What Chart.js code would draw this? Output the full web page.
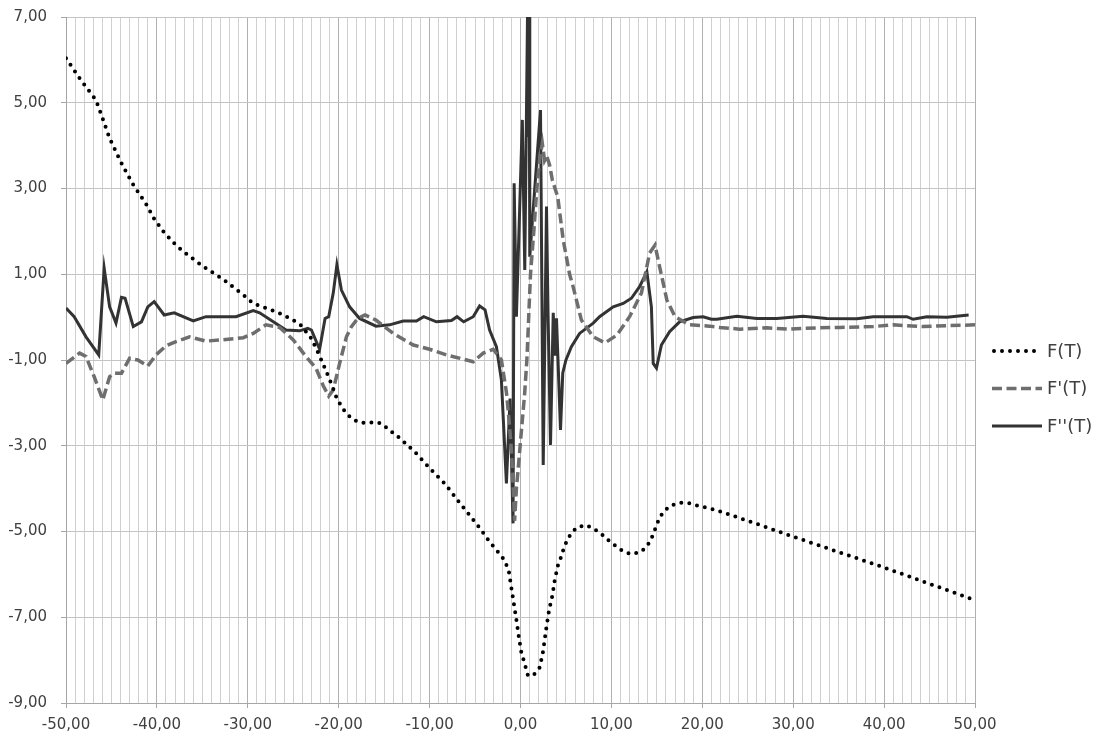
<!DOCTYPE html>
<html>
<head>
<meta charset="utf-8">
<script src="https://cdn.jsdelivr.net/npm/chart.js@4"></script>
<style>
html,body{margin:0;padding:0;background:#fff;}
#wrap{width:1100px;height:732px;position:relative;}
</style>
</head>
<body>
<div id="wrap"><canvas id="c" width="1100" height="732"></canvas></div>
<script>
// ---- Data ----
const seriesNames = ["F(T)", "F'(T)", "F''(T)"];

const xTicksMin = -50, xTicksMax = 50, xMinorStep = 1, xLabelStep = 10;
const yTicksMin = -9, yTicksMax = 7, yStep = 2;

// F(T)
const fX = [-50,-48.4,-46.7,-46.1,-45.2,-44.0,-42.7,-41.2,-40.3,-39.2,-37.9,-37.1,-34.9,-32.7,-30.5,-29.4,-27.2,-26.5,-25.0,-24.1,-23.0,-22.2,-21.5,-20.8,-20.2,-19.5,-18.8,-17.9,-17.0,-16.0,-15.3,-14.6,-13.3,-11.6,-10.0,-8.3,-6.7,-5.6,-4.3,-3.75,-3.2,-2.58,-1.99,-1.55,-1.26,-1.0,-0.74,-0.45,-0.19,0.1,0.36,0.83,1.57,2.12,2.48,2.86,3.15,3.52,3.77,4.13,4.51,4.76,5.13,5.61,6.23,7.18,8.1,8.91,9.64,10.37,11.22,12.1,13.05,13.79,14.3,14.67,14.96,15.33,15.8,16.61,17.53,18.56,19.54,20.47,21.5,25,30,35,40,45,50];
const fY = [6.04,5.54,5.06,4.71,4.17,3.63,3.12,2.64,2.29,1.97,1.68,1.53,1.18,0.88,0.52,0.32,0.15,0.09,-0.07,-0.2,-0.5,-0.86,-1.2,-1.56,-1.9,-2.15,-2.32,-2.45,-2.47,-2.45,-2.48,-2.6,-2.82,-3.15,-3.52,-3.89,-4.33,-4.62,-4.97,-5.14,-5.29,-5.45,-5.6,-5.78,-5.96,-6.32,-6.67,-7.06,-7.45,-7.83,-8.01,-8.37,-8.32,-8.17,-7.8,-7.22,-6.83,-6.48,-6.13,-5.78,-5.57,-5.39,-5.2,-5.03,-4.9,-4.85,-4.94,-5.06,-5.2,-5.32,-5.45,-5.53,-5.49,-5.38,-5.21,-5.03,-4.85,-4.67,-4.52,-4.39,-4.33,-4.34,-4.4,-4.44,-4.5,-4.75,-5.12,-5.48,-5.84,-6.22,-6.6];

// F'(T)
const f1X = [-50,-48.5,-47.8,-46.9,-45.95,-45.2,-44.7,-43.9,-43.0,-42.1,-41.0,-40.1,-39.0,-37.9,-36.4,-34.6,-32.4,-30.5,-29.4,-28.0,-26.5,-25.0,-23.6,-22.5,-21.7,-21.1,-20.6,-19.9,-19.15,-18.6,-17.9,-17.1,-15.9,-14.0,-11.8,-10.0,-8.15,-5.2,-4.1,-3.0,-2.1,-1.55,-1.3,-1.0,-0.8,-0.65,-0.45,-0.2,0.1,0.45,0.7,0.9,1.1,1.5,1.8,2.1,2.4,2.65,2.9,3.2,3.5,4.1,4.7,5.4,5.8,6.7,8.0,9.3,10.6,12.0,13.3,14.2,14.8,15.3,16.1,17.0,18.6,20.8,21.9,24.1,27.1,29.6,32.6,35.1,38.8,41.0,44.3,47.0,50];
const f1Y = [-1.08,-0.84,-0.92,-1.39,-1.93,-1.39,-1.31,-1.31,-0.96,-1.0,-1.14,-0.88,-0.67,-0.57,-0.46,-0.56,-0.52,-0.48,-0.38,-0.18,-0.24,-0.53,-0.92,-1.19,-1.6,-1.84,-1.7,-1.08,-0.46,-0.22,-0.03,0.05,-0.07,-0.38,-0.65,-0.75,-0.88,-1.04,-0.84,-0.75,-1.0,-1.75,-2.3,-3.1,-4.0,-4.75,-4.0,-3.4,-2.65,-1.8,-1.0,0.0,1.0,2.1,3.0,3.66,4.05,3.65,3.75,3.55,3.2,2.8,1.8,1.0,0.7,-0.07,-0.46,-0.6,-0.42,0.01,0.56,1.49,1.68,1.18,0.4,0.01,-0.18,-0.21,-0.24,-0.28,-0.25,-0.28,-0.25,-0.24,-0.22,-0.18,-0.22,-0.2,-0.18];

// F''(T)
const f2X = [-50,-49.1,-47.8,-46.4,-45.8,-45.2,-44.5,-43.9,-43.5,-42.6,-41.7,-41.0,-40.3,-39.2,-38.1,-36.0,-34.6,-31.3,-29.4,-28.7,-25.8,-24.3,-23.4,-23.0,-22.1,-21.5,-21.1,-20.6,-20.2,-19.7,-18.8,-17.7,-15.9,-14.4,-12.9,-11.45,-10.65,-9.25,-7.6,-6.98,-6.25,-5.2,-4.5,-3.9,-3.4,-2.65,-2.1,-1.55,-1.15,-0.82,-0.7,-0.45,0.2,0.47,0.8,0.88,0.95,1.02,2.2,2.5,2.86,3.03,3.3,3.6,3.8,3.96,4.4,4.65,5.0,5.6,6.5,8.0,8.7,10.2,11.3,12.2,13.1,13.9,14.4,14.6,14.96,15.5,16.4,17.5,19.0,20.1,21.0,21.6,23.8,26.0,28.2,31.1,33.7,37.0,38.8,42.5,43.2,44.7,46.9,49.3];
const f2Y = [0.21,0.01,-0.46,-0.88,1.14,0.24,-0.14,0.46,0.44,-0.22,-0.11,0.24,0.36,0.05,0.10,-0.09,0.01,0.01,0.15,0.10,-0.30,-0.32,-0.26,-0.30,-0.75,-0.03,0.01,0.56,1.22,0.63,0.24,-0.03,-0.21,-0.18,-0.09,-0.09,0.01,-0.11,-0.08,0.01,-0.11,0.01,0.26,0.17,-0.3,-0.69,-1.47,-3.88,-1.9,-4.81,3.12,0.01,4.6,1.1,7.6,4.2,7.6,1.41,4.83,-3.45,2.58,0.09,-2.98,0.1,-0.9,-0.03,-2.63,-1.3,-1.0,-0.69,-0.38,-0.14,0.01,0.24,0.32,0.44,0.71,1.06,0.24,-1.08,-1.19,-0.65,-0.34,-0.11,-0.01,0.01,-0.05,-0.05,0.02,-0.03,-0.03,0.02,-0.03,-0.04,0.01,0.01,-0.05,0.01,0.0,0.05];

// ---- Build ----
const toPts = (xs, ys) => xs.map((x, i) => ({x: x, y: ys[i]}));
const fmt = v => v.toFixed(2).replace('.', ',');
const FONT = "'DejaVu Sans', Verdana, sans-serif";

const legendPlugin = {
  id: 'sideLegend',
  afterDraw(chart) {
    const ctx = chart.ctx;
    const x0 = 992, x1 = 1042, tx = 1047, y0 = 351, dy = 37.5;
    chart.data.datasets.forEach((ds, i) => {
      const y = y0 + i * dy;
      ctx.save();
      ctx.strokeStyle = ds.borderColor;
      ctx.lineWidth = ds.borderWidth;
      ctx.lineCap = ds.borderCapStyle || 'butt';
      ctx.setLineDash(ds.borderDash || []);
      ctx.beginPath();
      ctx.moveTo(x0 + (ds.borderCapStyle === 'round' ? 2 : 0), y);
      ctx.lineTo(x1, y);
      ctx.stroke();
      ctx.setLineDash([]);
      ctx.fillStyle = '#404040';
      ctx.font = "18px " + FONT;
      ctx.textBaseline = 'middle';
      ctx.textAlign = 'left';
      ctx.fillText(ds.label, tx, y + 1);
      ctx.restore();
    });
  }
};

new Chart(document.getElementById('c'), {
  type: 'scatter',
  data: {
    datasets: [
      {label: seriesNames[0], data: toPts(fX, fY), showLine: true, borderColor: '#000000', borderWidth: 4,
       borderDash: [0, 8], borderCapStyle: 'round', pointRadius: 0, fill: false},
      {label: seriesNames[1], data: toPts(f1X, f1Y), showLine: true, borderColor: '#6e6e6e', borderWidth: 3.5,
       borderDash: [10, 4.5], borderCapStyle: 'butt', pointRadius: 0, fill: false},
      {label: seriesNames[2], data: toPts(f2X, f2Y), showLine: true, borderColor: '#333333', borderWidth: 3,
       borderCapStyle: 'butt', borderJoinStyle: 'miter', pointRadius: 0, fill: false}
    ]
  },
  options: {
    responsive: false,
    animation: false,
    events: [],
    layout: {padding: {top: 17, right: 125, left: 0, bottom: 0}},
    plugins: {legend: {display: false}, tooltip: {enabled: false}},
    scales: {
      x: {
        type: 'linear', min: xTicksMin, max: xTicksMax,
        afterFit: s => { s.height = 29; },
        border: {color: '#a6a6a6', width: 1},
        grid: {
          color: c => (c.tick && Math.round(c.tick.value) % xLabelStep === 0) ? '#b0b0b0' : '#d0d0d0',
          tickColor: c => (c.tick && Math.round(c.tick.value) % xLabelStep === 0) ? '#a6a6a6' : 'rgba(0,0,0,0)',
          tickLength: 5, lineWidth: 1
        },
        ticks: {
          stepSize: xMinorStep, maxTicksLimit: 500, autoSkip: false, maxRotation: 0, minRotation: 0,
          padding: 8, color: '#404040', font: {family: FONT, size: 15},
          callback: v => (Math.round(v) % xLabelStep === 0) ? fmt(v) : ''
        }
      },
      y: {
        type: 'linear', min: yTicksMin, max: yTicksMax,
        afterFit: s => { s.width = 66; s.paddingTop = 9; s.paddingBottom = 9; },
        border: {color: '#a6a6a6', width: 1},
        grid: {color: '#c4c4c4', tickColor: '#a6a6a6', tickLength: 5, lineWidth: 1},
        ticks: {
          stepSize: yStep, padding: 14, color: '#404040', font: {family: FONT, size: 15},
          callback: v => fmt(v)
        }
      }
    }
  },
  plugins: [legendPlugin]
});
</script>
</body>
</html>
